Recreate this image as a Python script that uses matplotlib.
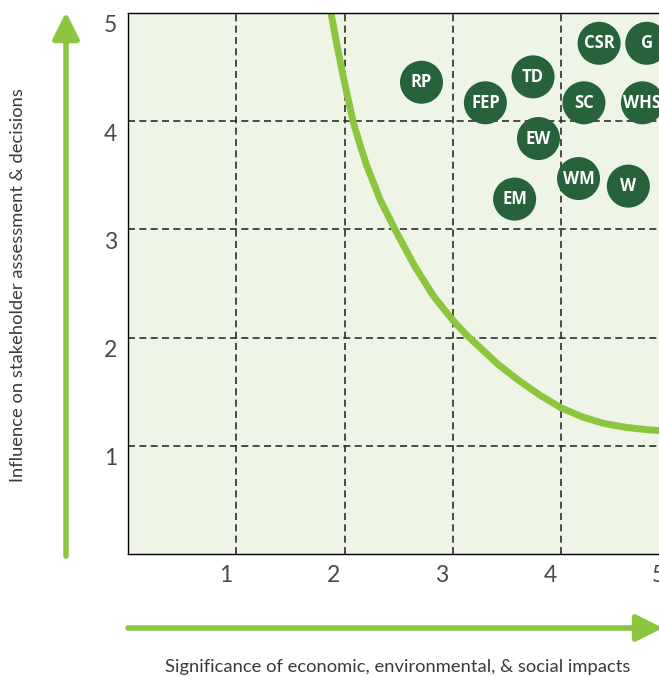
import matplotlib
matplotlib.use("Agg")
import matplotlib.pyplot as plt
from matplotlib.transforms import ScaledTranslation

# topic bubbles: label, significance (x), influence (y)
topics = ["CSR", "G", "RP", "TD", "FEP", "SC", "WHS", "EW", "WM", "W", "EM"]
significance = [4.35, 4.79, 2.71, 3.74, 3.30, 4.21, 4.75, 3.79, 4.16, 4.62, 3.57]
influence = [4.72, 4.72, 4.36, 4.41, 4.17, 4.17, 4.17, 3.84, 3.47, 3.40, 3.28]

# materiality threshold curve
curve_x = [1.865, 1.93, 1.99, 2.08, 2.14, 2.20, 2.33, 2.47, 2.65, 2.82, 3.00,
           3.13, 3.42, 3.60, 3.80, 4.00, 4.20, 4.40, 4.60, 4.80, 5.00]
curve_y = [5.05, 4.70, 4.40, 3.99, 3.79, 3.60, 3.27, 2.99, 2.655, 2.385, 2.16,
           2.02, 1.75, 1.61, 1.47, 1.35, 1.265, 1.205, 1.17, 1.148, 1.135]

tick_vals = [1, 2, 3, 4, 5]
tick_labels = ["1", "2", "3", "4", "5"]

x_title = "Significance of economic, environmental, & social impacts"
y_title = "Influence on stakeholder assessment & decisions"

light_green = "#8cc63f"
dark_green = "#28623a"
bg = "#eef5e7"

W, H = 659, 676
fig = plt.figure(figsize=(W / 100, H / 100), dpi=100)
ax = fig.add_axes([128 / W, (H - 554) / H, 541.5 / W, 541 / H])
ax.set_facecolor(bg)
ax.set_xlim(0, 5)
ax.set_ylim(0, 5)

# dashed grid at the inner integers
for v in tick_vals[:-1]:
    ax.axvline(v, color="#2e2e2e", lw=1.2, ls=(0, (4.2, 2.6)), zorder=1)
    ax.axhline(v, color="#2e2e2e", lw=1.2, ls=(0, (4.2, 2.6)), zorder=1)

ax.plot(curve_x, curve_y, color=light_green, lw=5, solid_capstyle="butt",
        solid_joinstyle="round", zorder=2)

ax.scatter(significance, influence, s=960, color=dark_green, edgecolors="none",
           zorder=3, clip_on=False)
for name, x, y in zip(topics, significance, influence):
    ax.text(x, y, name, color="white", fontsize=12, fontweight="bold",
            family="Open Sans", ha="center", va="center", zorder=4)

for side in ["left", "bottom", "top"]:
    ax.spines[side].set_color("black")
    ax.spines[side].set_linewidth(1.0)
ax.spines["right"].set_visible(False)

ax.set_xticks(tick_vals)
ax.set_yticks(tick_vals)
ax.set_xticklabels(tick_labels)
ax.set_yticklabels(tick_labels)
ax.tick_params(length=0, labelsize=16.5, labelcolor="#4a4a4a", pad=8)
for lab in ax.get_xticklabels() + ax.get_yticklabels():
    lab.set_family("Lato")
# labels sit a little left / below their grid lines
for lab in ax.get_xticklabels():
    lab.set_transform(lab.get_transform() + ScaledTranslation(-0.11, 0, fig.dpi_scale_trans))
for lab in ax.get_yticklabels():
    lab.set_transform(lab.get_transform() + ScaledTranslation(0, -0.11, fig.dpi_scale_trans))

# axis arrows
arrow = dict(arrowstyle="-|>,head_length=0.8,head_width=0.4", color=light_green,
             lw=4, shrinkA=0, shrinkB=0, mutation_scale=20)
ax.annotate("", xy=(66, H - 12), xytext=(66, H - 556), xycoords="figure pixels",
            textcoords="figure pixels", arrowprops=arrow, annotation_clip=False)
ax.annotate("", xy=(663, H - 628), xytext=(128, H - 628), xycoords="figure pixels",
            textcoords="figure pixels", arrowprops=arrow, annotation_clip=False)

fig.text(398 / W, 1 - 667 / H, x_title, ha="center", va="center", fontsize=13.2,
         color="#3a3a3a", family="Lato")
fig.text(18 / W, 1 - 285 / H, y_title, ha="center", va="center", rotation=90,
         fontsize=13.2, color="#3a3a3a", family="Lato")

fig.savefig("out.png", dpi=100)
